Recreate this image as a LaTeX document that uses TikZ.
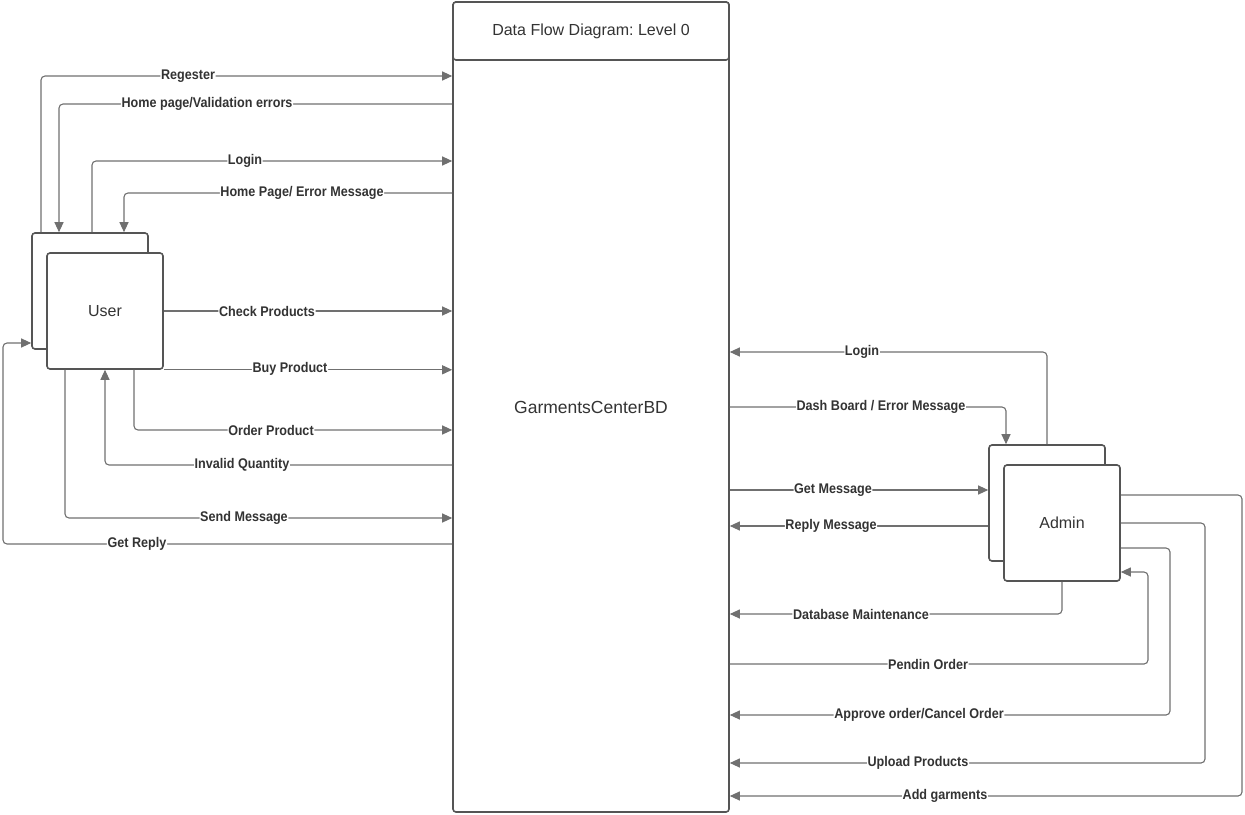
\documentclass[tikz,border=0pt]{standalone}
\usepackage{fontspec}
\setmainfont{Liberation Sans}
\newfontfamily\lblfont{Liberation Sans}[FakeStretch=0.9]
\usetikzlibrary{arrows.meta}

\definecolor{linegray}{HTML}{707070}
\definecolor{boxgray}{HTML}{555555}
\definecolor{txtgray}{HTML}{333333}

\tikzset{
  entity/.style={draw=boxgray, line width=1.6pt, rounded corners=3pt, fill=white,
    minimum width=116pt, minimum height=116pt, inner sep=0pt,
    font=\fontsize{16}{18}\selectfont, text=txtgray},
  flow/.style={draw=linegray, line width=1.1pt, rounded corners=4pt,
    -{Triangle[length=10pt,width=9pt]}},
  lbl/.style={fill=white, inner sep=0.6pt, text=txtgray,
    font=\lblfont\bfseries\fontsize{14}{16}\selectfont}
}

\begin{document}
\frenchspacing
\begin{tikzpicture}[x=1pt,y=-1pt]
		\useasboundingbox (0,0) rectangle (1245,814);
		% system
		\node[entity, minimum width=276pt, minimum height=810pt, font=\fontsize{17.5}{20}\selectfont] (sys) at (591,407) {GarmentsCenterBD};
		\node[entity, minimum width=276pt, minimum height=58pt] (hdr) at (591,31) {Data Flow Diagram: Level 0};
		% external entities
		\node[entity] (userb) at (90,291) {};
		\node[entity] (user) at (105,311) {User};
		\node[entity] (adminb) at (1047,503) {};
		\node[entity] (admin) at (1062,523) {Admin};

		% user flows
		\draw[flow] (userb.north -| 41,0) |- (sys.west |- 0,76) node[lbl] (uReg) at (188,76) {Regester};
		\draw[flow] (sys.west |- 0,104) -| (userb.north -| 59,0) node[lbl] (uHome) at (207,104) {Home page/Validation errors};
		\draw[flow] (userb.north -| 92,0) |- (sys.west |- 0,161) node[lbl] (uLogin) at (245,161) {Login};
		\draw[flow] (sys.west |- 0,193) -| (userb.north -| 124,0) node[lbl] (uErr) at (302,193) {Home Page/ Error Message};
		\draw[flow] (user.east) -- (sys.west |- user.east) node[lbl] (uCheck) at (267,311) {Check Products};
		\draw[flow] (user.south east) -- (sys.west |- user.south east) node[lbl] (uBuy) at (290,369) {Buy Product};
		\draw[flow] (user.south -| 134,0) |- (sys.west |- 0,430) node[lbl] (uOrder) at (271,430) {Order Product};
		\draw[flow] (sys.west |- 0,465) -| (user.south -| 105,0) node[lbl] (uQty) at (242,465) {Invalid Quantity};
		\draw[flow] (user.south -| 65,0) |- (sys.west |- 0,518) node[lbl] (uSend) at (244,518) {Send Message};
		\draw[flow] (sys.west |- 0,544) -| (3,343) -- (userb.west |- 0,343) node[lbl] (uReply) at (137,544) {Get Reply};

		% admin flows
		\draw[flow] (adminb.north) |- (sys.east |- 0,352) node[lbl] (aLogin) at (862,352) {Login};
		\draw[flow] (sys.east |- 0,407) -| (adminb.north -| 1006,0) node[lbl] (aDash) at (881,407) {Dash Board / Error Message};
		\draw[flow] (sys.east |- 0,490) -- (adminb.west |- 0,490) node[lbl] (aGet) at (833,490) {Get Message};
		\draw[flow] (adminb.west |- 0,526) -- (sys.east |- 0,526) node[lbl] (aReply) at (831,526) {Reply Message};
		\draw[flow] (admin.south) |- (sys.east |- 0,614) node[lbl] (aDb) at (861,614) {Database Maintenance};
		\draw[flow] (sys.east |- 0,664) -| (1148,572) -- (admin.east |- 0,572) node[lbl] (aPend) at (928,664) {Pendin Order};
		\draw[flow] (admin.east |- 0,548) -| (1170,715) -- (sys.east |- 0,715) node[lbl] (aApp) at (919,715) {Approve order/Cancel Order};
		\draw[flow] (admin.east |- 0,523) -| (1205,763) -- (sys.east |- 0,763) node[lbl] (aUp) at (918,763) {Upload Products};
		\draw[flow] (admin.east |- 0,495) -| (1242,796) -- (sys.east |- 0,796) node[lbl] (aAdd) at (945,796) {Add garments};
	\end{tikzpicture}
\end{document}
